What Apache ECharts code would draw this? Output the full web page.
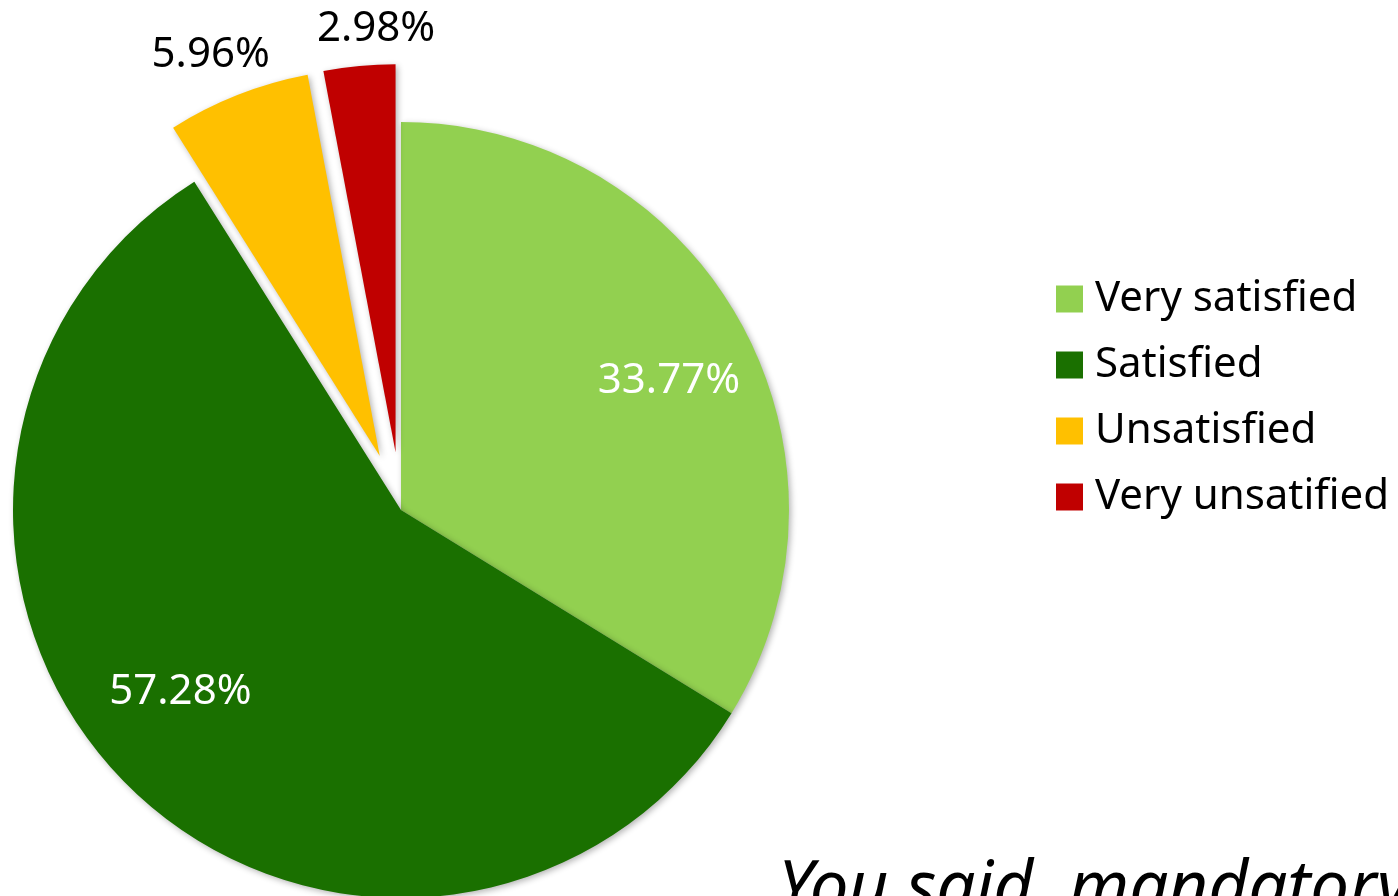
<!DOCTYPE html>
<html>
<head>
<meta charset="utf-8">
<script src="https://cdn.jsdelivr.net/npm/echarts@6/dist/echarts.min.js"></script>
<style>
  html, body { margin: 0; padding: 0; background: #fff; }
  #chart { width: 1398px; height: 896px; }
</style>
</head>
<body>
<div id="chart"></div>
<script>
// Satisfaction survey pie, two smaller slices pulled out
const categories = ["Very satisfied", "Satisfied", "Unsatisfied", "Very unsatified"];
const shares = [33.77, 57.28, 5.96, 2.98];
const exploded = [false, false, true, true];

const colors = ["#92D050", "#1A7000", "#FFC000", "#C00000"];
const labelColors = ["#ffffff", "#ffffff", "#000000", "#000000"];
// move labels from the middle of each slice to where the original puts them
const labelShift = [[96, -33], [-82, 42], [-97, -218], [-1, -227]];

const chart = echarts.init(document.getElementById("chart"));

chart.setOption({
    animation: false,
    legend: {
        orient: "vertical",
        left: 1051,
        top: 273,
        icon: "rect",
        itemWidth: 27,
        itemHeight: 27,
        itemGap: 24,
        selectedMode: false,
        textStyle: { fontFamily: "Noto Sans", fontSize: 42, lineHeight: 40, color: "#000", padding: [0, 0, 0, 7] },
        data: categories
    },
    series: [{
        type: "pie",
        center: [401, 510],
        radius: 388,
        startAngle: 90,
        clockwise: true,
        selectedMode: "multiple",
        selectedOffset: 58,
        emphasis: { disabled: true },
        labelLine: { show: false },
        itemStyle: {
            shadowBlur: 6,
            shadowColor: "rgba(0,0,0,0.3)",
            shadowOffsetX: 2,
            shadowOffsetY: 2
        },
        labelLayout: params => ({
            dx: labelShift[params.dataIndex][0],
            dy: labelShift[params.dataIndex][1]
        }),
        data: categories.map((name, i) => ({
            name,
            value: shares[i],
            selected: exploded[i],
            itemStyle: { color: colors[i] },
            label: {
                show: true,
                position: "inside",
                formatter: shares[i].toFixed(2) + "%",
                color: labelColors[i],
                fontFamily: "Noto Sans",
                fontSize: 42
            }
        }))
    }],
    graphic: [{
        type: "text",
        left: 778,
        top: 856,
        style: {
            text: "You said, mandatory",
            fontFamily: "Noto Sans",
            fontStyle: "italic",
            fontSize: 69,
            fill: "#000"
        }
    }]
});
</script>
</body>
</html>
